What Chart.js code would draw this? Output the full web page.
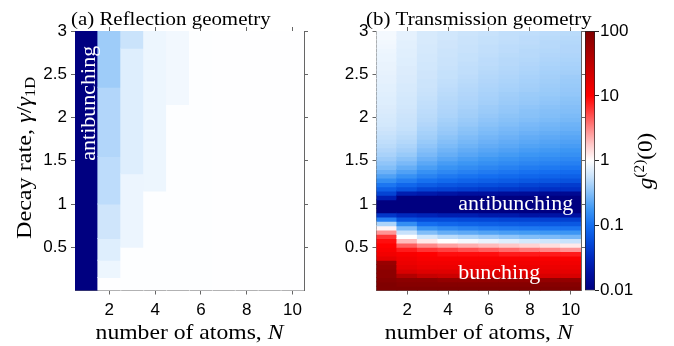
<!DOCTYPE html>
<html>
<head>
<meta charset="utf-8">
<title>g2(0) maps</title>
<script src="https://cdn.jsdelivr.net/npm/chart.js@4.4.1/dist/chart.umd.min.js"></script>
<style>
  html, body { margin: 0; padding: 0; background: #fff; }
  #fig { position: relative; width: 674px; height: 346px; overflow: hidden; }
  #fig canvas { position: absolute; top: 0; }
</style>
</head>
<body>
<div id="fig">
  <canvas id="reflection" width="330" height="346" style="left:0"></canvas>
  <canvas id="transmission" width="270" height="346" style="left:330px"></canvas>
  <canvas id="colorbar" width="114" height="346" style="left:560px"></canvas>
</div>
<script>
(function () {
    "use strict";

    // axes
    var atomCounts = [1, 2, 3, 4, 5, 6, 7, 8, 9, 10];
    var atomTicks = [2, 4, 6, 8, 10];
    var gammaTicks = [0.5, 1, 1.5, 2, 2.5, 3];
    var colorTicks = [0.01, 0.1, 1, 10, 100];

    // (a) reflection: gamma band edges for each N and log10 g2(0) inside each band
    var reflEdges = [
        [0, 3],
        [0, 0.15, 0.35, 0.6, 1.0, 1.55, 2.35, 3],
        [0, 0.5, 1.35, 2.8, 3],
        [0, 1.15, 3],
        [0, 2.15, 3],
        [0, 3], [0, 3], [0, 3], [0, 3], [0, 3]
    ];
    var reflLogG2 = [
        [-2],
        [-0.005, -0.08, -0.15, -0.22, -0.29, -0.33, -0.4],
        [-0.01, -0.085, -0.15, -0.24],
        [-0.008, -0.08],
        [-0.008, -0.06],
        [-0.008], [-0.006], [-0.006], [-0.005], [-0.005]
    ];

    // (b) transmission: log10 g2(0) on a 0.05 gamma grid, from gamma = 0 upwards, one row per N
    var gammaStep = 0.05;
    var transLogG2 = [
        [2.0, 2.0, 1.95, 1.9, 1.9, 1.85, 1.8, 1.2, 1.1, 1.05, 1.0, 0.95, 0.8, 0.45, 0.05, -0.35, -0.9, -1.4, -2, -2,
         -2, -1.6, -1.3, -1.1, -0.95, -0.8, -0.68, -0.58, -0.5, -0.45, -0.4, -0.36, -0.33, -0.3, -0.28, -0.26, -0.24, -0.22, -0.2, -0.19,
         -0.18, -0.17, -0.16, -0.15, -0.15, -0.14, -0.13, -0.13, -0.12, -0.12, -0.11, -0.1, -0.1, -0.09, -0.09, -0.08, -0.07, -0.06, -0.05, -0.05],
        [2.0, 1.95, 1.9, 1.6, 1.3, 1.2, 1.15, 1.1, 1.05, 0.9, 0.65, 0.3, 0.0, -0.25, -0.5, -0.8, -1.2, -1.5, -2, -2,
         -2, -2, -1.6, -1.2, -1.05, -0.9, -0.78, -0.68, -0.6, -0.53, -0.47, -0.42, -0.38, -0.35, -0.32, -0.3, -0.28, -0.26, -0.25, -0.24,
         -0.23, -0.22, -0.21, -0.2, -0.2, -0.19, -0.18, -0.18, -0.17, -0.17, -0.16, -0.16, -0.15, -0.15, -0.14, -0.14, -0.13, -0.13, -0.12, -0.12],
        [2.0, 1.95, 1.9, 1.45, 1.25, 1.15, 1.1, 1.05, 1.0, 0.8, 0.5, 0.1, -0.2, -0.5, -0.75, -1.0, -1.25, -1.55, -2, -2,
         -2, -2, -1.65, -1.3, -1.12, -0.98, -0.87, -0.78, -0.7, -0.64, -0.58, -0.53, -0.49, -0.45, -0.42, -0.39, -0.37, -0.35, -0.33, -0.31,
         -0.3, -0.29, -0.28, -0.27, -0.26, -0.25, -0.24, -0.23, -0.23, -0.22, -0.22, -0.21, -0.21, -0.2, -0.2, -0.19, -0.19, -0.18, -0.18, -0.18],
        [2.0, 1.95, 1.85, 1.4, 1.25, 1.15, 1.1, 1.05, 0.95, 0.75, 0.4, 0.0, -0.3, -0.6, -0.82, -1.05, -1.25, -1.6, -2, -2,
         -2, -2, -1.7, -1.32, -1.17, -1.03, -0.93, -0.84, -0.77, -0.71, -0.65, -0.6, -0.56, -0.52, -0.49, -0.46, -0.43, -0.41, -0.39, -0.37,
         -0.35, -0.34, -0.33, -0.32, -0.31, -0.3, -0.29, -0.28, -0.27, -0.26, -0.26, -0.25, -0.24, -0.24, -0.23, -0.23, -0.22, -0.22, -0.21, -0.21],
        [2.0, 1.95, 1.85, 1.35, 1.2, 1.15, 1.1, 1.05, 0.95, 0.7, 0.35, -0.05, -0.35, -0.63, -0.86, -1.08, -1.27, -1.6, -2, -2,
         -2, -2, -1.75, -1.35, -1.2, -1.07, -0.97, -0.88, -0.81, -0.75, -0.7, -0.65, -0.61, -0.57, -0.54, -0.51, -0.48, -0.46, -0.43, -0.41,
         -0.39, -0.38, -0.36, -0.35, -0.34, -0.33, -0.32, -0.31, -0.3, -0.29, -0.28, -0.28, -0.27, -0.26, -0.26, -0.25, -0.25, -0.24, -0.24, -0.23],
        [2.0, 1.95, 1.85, 1.35, 1.2, 1.15, 1.1, 1.05, 0.95, 0.65, 0.3, -0.1, -0.4, -0.67, -0.9, -1.1, -1.28, -1.65, -2, -2,
         -2, -2, -1.75, -1.38, -1.23, -1.1, -1.0, -0.92, -0.85, -0.79, -0.74, -0.69, -0.65, -0.61, -0.58, -0.55, -0.52, -0.5, -0.47, -0.45,
         -0.43, -0.41, -0.4, -0.38, -0.37, -0.36, -0.35, -0.34, -0.33, -0.32, -0.31, -0.3, -0.29, -0.29, -0.28, -0.27, -0.27, -0.26, -0.26, -0.25],
        [2.0, 1.95, 1.85, 1.3, 1.2, 1.15, 1.1, 1.05, 0.9, 0.6, 0.25, -0.15, -0.45, -0.7, -0.92, -1.12, -1.3, -1.65, -2, -2,
         -2, -2, -1.8, -1.4, -1.26, -1.13, -1.03, -0.95, -0.88, -0.82, -0.77, -0.72, -0.68, -0.64, -0.61, -0.58, -0.55, -0.53, -0.5, -0.48,
         -0.46, -0.44, -0.43, -0.41, -0.4, -0.39, -0.37, -0.36, -0.35, -0.34, -0.33, -0.32, -0.31, -0.31, -0.3, -0.29, -0.29, -0.28, -0.27, -0.27],
        [2.0, 1.95, 1.85, 1.3, 1.2, 1.15, 1.1, 1.05, 0.9, 0.55, 0.2, -0.2, -0.5, -0.72, -0.94, -1.14, -1.3, -1.7, -2, -2,
         -2, -2, -1.8, -1.42, -1.3, -1.16, -1.06, -0.98, -0.91, -0.85, -0.8, -0.75, -0.71, -0.67, -0.64, -0.61, -0.58, -0.55, -0.53, -0.5,
         -0.48, -0.47, -0.45, -0.43, -0.42, -0.41, -0.39, -0.38, -0.37, -0.36, -0.35, -0.34, -0.33, -0.32, -0.31, -0.31, -0.3, -0.29, -0.29, -0.28],
        [2.0, 1.95, 1.85, 1.3, 1.2, 1.15, 1.1, 1.05, 0.9, 0.5, 0.15, -0.22, -0.52, -0.74, -0.95, -1.15, -1.32, -1.7, -2, -2,
         -2, -2, -1.85, -1.45, -1.33, -1.18, -1.08, -1.0, -0.93, -0.87, -0.82, -0.77, -0.73, -0.69, -0.66, -0.63, -0.6, -0.57, -0.55, -0.52,
         -0.5, -0.49, -0.47, -0.45, -0.44, -0.42, -0.41, -0.4, -0.39, -0.38, -0.37, -0.36, -0.35, -0.34, -0.33, -0.32, -0.31, -0.31, -0.3, -0.29],
        [2.0, 1.95, 1.85, 1.3, 1.2, 1.15, 1.1, 1.05, 0.9, 0.45, 0.1, -0.25, -0.55, -0.75, -0.96, -1.16, -1.33, -1.72, -2, -2,
         -2, -2, -1.85, -1.45, -1.36, -1.2, -1.1, -1.02, -0.95, -0.89, -0.84, -0.79, -0.75, -0.71, -0.68, -0.65, -0.62, -0.59, -0.57, -0.54,
         -0.52, -0.5, -0.49, -0.47, -0.46, -0.44, -0.43, -0.42, -0.41, -0.4, -0.38, -0.37, -0.36, -0.35, -0.34, -0.33, -0.33, -0.32, -0.31, -0.3]
    ];

    // blue-white-red map over log10 g2 in [-2, 2]
    var cmapStops = [
        [-2.0, 0, 0, 128],
        [-1.75, 0, 15, 158],
        [-1.5, 0, 40, 190],
        [-1.25, 5, 75, 218],
        [-1.0, 20, 110, 240],
        [-0.75, 60, 150, 244],
        [-0.5, 130, 190, 248],
        [-0.25, 200, 226, 251],
        [0.0, 255, 255, 255],
        [0.25, 255, 200, 200],
        [0.5, 255, 135, 135],
        [0.75, 255, 65, 65],
        [1.0, 255, 0, 0],
        [1.5, 190, 0, 0],
        [2.0, 128, 0, 0]
    ];

    function rgb(r, g, b) {
        return "rgb(" + Math.round(r) + "," + Math.round(g) + "," + Math.round(b) + ")";
    }

    function colorFor(t) {
        t = Math.max(-2, Math.min(2, t));
        for (var i = 1; i < cmapStops.length; i++) {
            var a = cmapStops[i - 1], b = cmapStops[i];
            if (t <= b[0]) {
                var f = (t - a[0]) / (b[0] - a[0]);
                return rgb(a[1] + f * (b[1] - a[1]), a[2] + f * (b[2] - a[2]), a[3] + f * (b[3] - a[3]));
            }
        }
        return rgb(128, 0, 0);
    }

    // floating bars, one per cell
    var reflCells = [], reflColors = [];
    reflEdges.forEach(function (edges, i) {
        reflLogG2[i].forEach(function (v, k) {
            reflCells.push({ x: atomCounts[i], y: [edges[k], edges[k + 1]] });
            reflColors.push(colorFor(v));
        });
    });

    var transCells = [], transColors = [];
    transLogG2.forEach(function (col, i) {
        col.forEach(function (v, k) {
            transCells.push({ x: atomCounts[i], y: [k * gammaStep, (k + 1) * gammaStep] });
            transColors.push(colorFor(v));
        });
    });

    var frameColor = "#666";
    var tickFont = { family: "'Liberation Sans', Arial, sans-serif", size: 17 };
    var serif = "'Liberation Serif', 'Times New Roman', serif";

    function fixedTicks(values) {
        return function (scale) {
            scale.ticks = values.map(function (v) { return { value: v }; });
        };
    }

    function frameAxis(position, min, max, ticks, showLabels, thickness) {
        var horizontal = position === "top" || position === "bottom";
        return {
            type: "linear",
            position: position,
            min: min,
            max: max,
            offset: false,
            z: 1,
            afterBuildTicks: fixedTicks(ticks),
            afterFit: function (scale) {
                if (horizontal) { scale.height = thickness; } else { scale.width = thickness; }
            },
            grid: { offset: false, drawOnChartArea: false, drawTicks: true, tickLength: 4, tickWidth: 1, color: frameColor },
            border: { display: true, color: frameColor, width: 1 },
            ticks: {
                display: showLabels,
                font: tickFont,
                color: "#000",
                padding: horizontal ? 6 : 4,
                maxRotation: 0,
                autoSkip: false,
                callback: function (v) { return String(v); }
            }
        };
    }

    function cellDataset(cells, colors) {
        return {
            data: cells,
            backgroundColor: colors,
            borderWidth: 0,
            barPercentage: 1,
            categoryPercentage: 1,
            inflateAmount: 0.5
        };
    }

    function baseOptions(padding) {
        return {
            responsive: false,
            animation: false,
            devicePixelRatio: 1,
            events: [],
            layout: { padding: padding },
            plugins: { legend: { display: false }, tooltip: { enabled: false } }
        };
    }

    function heatmapOptions(leftWidth, padding) {
        var opts = baseOptions(padding);
        opts.scales = {
            x: frameAxis("bottom", 0.5, 10.5, atomTicks, true, 55.5),
            x2: frameAxis("top", 0.5, 10.5, atomTicks, false, 6),
            y: frameAxis("left", 0, 3, gammaTicks, true, leftWidth),
            y2: frameAxis("right", 0, 3, gammaTicks, false, 6)
        };
        return opts;
    }

    // serif text runs, with sub/superscripts via dy
    function drawRuns(ctx, runs, x, y, opt) {
        opt = opt || {};
        ctx.save();
        ctx.translate(x, y);
        if (opt.angle) { ctx.rotate(opt.angle); }
        ctx.scale(1.1, 1);
        ctx.fillStyle = opt.color || "#000";
        ctx.textBaseline = "alphabetic";
        ctx.textAlign = "left";
        var total = 0;
        runs.forEach(function (r) {
            ctx.font = (r.italic ? "italic " : "") + r.size + "px " + serif;
            r.width = ctx.measureText(r.text).width;
            total += r.width;
        });
        var cx = opt.align === "center" ? -total / 2 : (opt.align === "right" ? -total : 0);
        runs.forEach(function (r) {
            ctx.font = (r.italic ? "italic " : "") + r.size + "px " + serif;
            ctx.fillText(r.text, cx, r.dy || 0);
            cx += r.width;
        });
        ctx.restore();
    }

    var xTitle = [
        { text: "number of atoms, ", size: 21.5 },
        { text: "N", size: 21.5, italic: true }
    ];
    var yTitle = [
        { text: "Decay rate, ", size: 22 },
        { text: "\u03b3", size: 22, italic: true },
        { text: "/", size: 22 },
        { text: "\u03b3", size: 22, italic: true },
        { text: "1D", size: 15, dy: 4 }
    ];

    new Chart(document.getElementById("reflection"), {
        type: "bar",
        data: { datasets: [cellDataset(reflCells, reflColors)] },
        options: heatmapOptions(75, { top: 25, right: 20, bottom: 0, left: 0 }),
        plugins: [{
            id: "reflectionText",
            afterDraw: function (chart) {
                var ctx = chart.ctx, a = chart.chartArea, s = chart.scales;
                drawRuns(ctx, [{ text: "(a) Reflection geometry", size: 19 }], a.left - 4, 25);
                drawRuns(ctx, xTitle, (a.left + a.right) / 2, 339, { align: "center" });
                drawRuns(ctx, yTitle, 31, 158, { align: "center", angle: -Math.PI / 2 });
                drawRuns(ctx, [{ text: "antibunching", size: 20 }],
                    s.x.getPixelForValue(1.37), s.y.getPixelForValue(2.165),
                    { align: "center", angle: -Math.PI / 2, color: "#fff" });
            }
        }]
    });

    new Chart(document.getElementById("transmission"), {
        type: "bar",
        data: { datasets: [cellDataset(transCells, transColors)] },
        options: heatmapOptions(46.5, { top: 25, right: 13, bottom: 0, left: 0 }),
        plugins: [{
            id: "transmissionText",
            afterDraw: function (chart) {
                var ctx = chart.ctx, a = chart.chartArea, s = chart.scales;
                drawRuns(ctx, [{ text: "(b) Transmission geometry", size: 19 }], a.left - 10.5, 25);
                drawRuns(ctx, xTitle, (a.left + a.right) / 2, 339, { align: "center" });
                drawRuns(ctx, [{ text: "antibunching", size: 20 }],
                    s.x.getPixelForValue(4.5), s.y.getPixelForValue(0.93), { color: "#fff" });
                drawRuns(ctx, [{ text: "bunching", size: 20 }],
                    s.x.getPixelForValue(4.5), s.y.getPixelForValue(0.13), { color: "#fff" });
            }
        }]
    });

    function colorbarFill(context) {
        var area = context.chart.chartArea;
        if (!area) { return "#fff"; }
        var g = context.chart.ctx.createLinearGradient(0, area.bottom, 0, area.top);
        cmapStops.forEach(function (st) {
            g.addColorStop((st[0] + 2) / 4, rgb(st[1], st[2], st[3]));
        });
        return g;
    }

    var cbOptions = baseOptions({ top: 31, right: 0, bottom: 55.5, left: 25 });
    cbOptions.scales = {
        x: { display: false },
        y: {
            type: "logarithmic",
            position: "right",
            min: 0.01,
            max: 100,
            z: 1,
            afterBuildTicks: fixedTicks(colorTicks),
            afterFit: function (scale) { scale.width = 79; },
            grid: { drawOnChartArea: false, tickLength: 4, color: "#222" },
            border: { display: false },
            ticks: { font: tickFont, color: "#000", padding: 1, callback: function (v) { return String(v); } }
        }
    };

    new Chart(document.getElementById("colorbar"), {
        type: "bar",
        data: {
            labels: ["g2"],
            datasets: [{
                data: [[0.01, 100]],
                backgroundColor: colorbarFill,
                borderColor: "#222",
                borderWidth: 1,
                borderSkipped: false,
                barPercentage: 1,
                categoryPercentage: 1
            }]
        },
        options: cbOptions,
        plugins: [{
            id: "colorbarText",
            afterDraw: function (chart) {
                drawRuns(chart.ctx, [
                    { text: "g", size: 21, italic: true },
                    { text: "(2)", size: 14, dy: -8 },
                    { text: "(0)", size: 21 }
                ], 92, 161, { align: "center", angle: -Math.PI / 2 });
            }
        }]
    });
})();
</script>
</body>
</html>
